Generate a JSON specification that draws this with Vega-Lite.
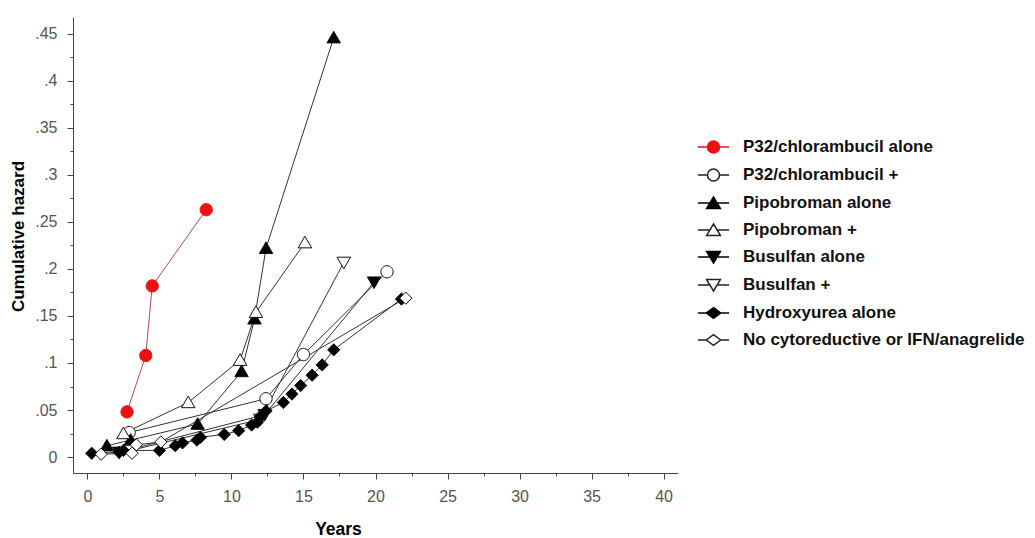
{
  "$schema": "https://vega.github.io/schema/vega-lite/v6.json",
  "width": 605,
  "height": 456,
  "autosize": "none",
  "padding": {"left": 73, "top": 17, "right": 357, "bottom": 65},
  "background": "white",
  "config": {
    "view": {"stroke": null},
    "font": "Liberation Sans",
    "axis": {"grid": false, "domainColor": "#444", "tickColor": "#444", "labelColor": "#555", "labelFont": "Liberation Sans", "titleFont": "Liberation Sans"}
  },
  "data": {
    "values": [
      {"s": "P32/chlorambucil alone", "t": 2.75, "h": 0.048},
      {"s": "P32/chlorambucil alone", "t": 4.05, "h": 0.108},
      {"s": "P32/chlorambucil alone", "t": 4.5, "h": 0.182},
      {"s": "P32/chlorambucil alone", "t": 8.25, "h": 0.263},
      {"s": "P32/chlorambucil +", "t": 2.9, "h": 0.026},
      {"s": "P32/chlorambucil +", "t": 12.4, "h": 0.062},
      {"s": "P32/chlorambucil +", "t": 15.0, "h": 0.109},
      {"s": "P32/chlorambucil +", "t": 20.8, "h": 0.197},
      {"s": "Pipobroman alone", "t": 1.35, "h": 0.012},
      {"s": "Pipobroman alone", "t": 3.0, "h": 0.018},
      {"s": "Pipobroman alone", "t": 7.65, "h": 0.035},
      {"s": "Pipobroman alone", "t": 10.7, "h": 0.091},
      {"s": "Pipobroman alone", "t": 11.6, "h": 0.147},
      {"s": "Pipobroman alone", "t": 12.4, "h": 0.222},
      {"s": "Pipobroman alone", "t": 17.1, "h": 0.446},
      {"s": "Pipobroman +", "t": 2.5, "h": 0.025},
      {"s": "Pipobroman +", "t": 7.0, "h": 0.058},
      {"s": "Pipobroman +", "t": 10.6, "h": 0.103},
      {"s": "Pipobroman +", "t": 11.7, "h": 0.154},
      {"s": "Pipobroman +", "t": 15.1, "h": 0.228},
      {"s": "Busulfan alone", "t": 2.2, "h": 0.005},
      {"s": "Busulfan alone", "t": 12.3, "h": 0.045},
      {"s": "Busulfan alone", "t": 19.9, "h": 0.186},
      {"s": "Busulfan +", "t": 3.0, "h": 0.007},
      {"s": "Busulfan +", "t": 12.0, "h": 0.04},
      {"s": "Busulfan +", "t": 17.8, "h": 0.207},
      {"s": "Hydroxyurea alone", "t": 0.3, "h": 0.004},
      {"s": "Hydroxyurea alone", "t": 2.2, "h": 0.005},
      {"s": "Hydroxyurea alone", "t": 2.5, "h": 0.007},
      {"s": "Hydroxyurea alone", "t": 5.0, "h": 0.007},
      {"s": "Hydroxyurea alone", "t": 6.1, "h": 0.012},
      {"s": "Hydroxyurea alone", "t": 6.6, "h": 0.015},
      {"s": "Hydroxyurea alone", "t": 7.6, "h": 0.018},
      {"s": "Hydroxyurea alone", "t": 7.85, "h": 0.021},
      {"s": "Hydroxyurea alone", "t": 9.5, "h": 0.024},
      {"s": "Hydroxyurea alone", "t": 10.5, "h": 0.028},
      {"s": "Hydroxyurea alone", "t": 11.4, "h": 0.034},
      {"s": "Hydroxyurea alone", "t": 11.8, "h": 0.037},
      {"s": "Hydroxyurea alone", "t": 12.0, "h": 0.043},
      {"s": "Hydroxyurea alone", "t": 12.4, "h": 0.049},
      {"s": "Hydroxyurea alone", "t": 13.6, "h": 0.058},
      {"s": "Hydroxyurea alone", "t": 14.2, "h": 0.067},
      {"s": "Hydroxyurea alone", "t": 14.8, "h": 0.076},
      {"s": "Hydroxyurea alone", "t": 15.6, "h": 0.087},
      {"s": "Hydroxyurea alone", "t": 16.3, "h": 0.098},
      {"s": "Hydroxyurea alone", "t": 17.1, "h": 0.114},
      {"s": "Hydroxyurea alone", "t": 21.8, "h": 0.168},
      {"s": "No cytoreductive or IFN/anagrelide", "t": 0.95, "h": 0.003},
      {"s": "No cytoreductive or IFN/anagrelide", "t": 3.1, "h": 0.004},
      {"s": "No cytoreductive or IFN/anagrelide", "t": 3.4, "h": 0.013},
      {"s": "No cytoreductive or IFN/anagrelide", "t": 5.1, "h": 0.016},
      {"s": "No cytoreductive or IFN/anagrelide", "t": 22.1, "h": 0.169}
    ]
  },
  "layer": [
    {
      "mark": {"type": "line", "strokeWidth": 1},
      "encoding": {
        "x": {"field": "t", "type": "quantitative", "scale": {"domain": [-1, 41], "nice": false, "zero": false},
          "axis": {"orient": "bottom", "values": [0, 5, 10, 15, 20, 25, 30, 35, 40], "tickSize": 6, "labelFontSize": 16, "labelPadding": 9, "title": "Years", "titleFontSize": 17.5, "titleFontWeight": "bold", "titleColor": "#000", "titleX": 265, "titleY": 56, "titleBaseline": "middle", "titleAlign": "center"}},
        "y": {"field": "h", "type": "quantitative", "scale": {"domain": [-0.017, 0.468], "nice": false, "zero": false},
          "axis": {"orient": "left", "values": [0, 0.05, 0.1, 0.15, 0.2, 0.25, 0.3, 0.35, 0.4, 0.45], "labelExpr": "datum.value == 0 ? '0' : slice(format(datum.value, '.2~f'), 1)", "tickSize": 6, "labelFontSize": 16, "labelPadding": 10, "title": "Cumulative hazard", "titleFontSize": 17, "titleFontWeight": "bold", "titleColor": "#000", "titleX": -55, "titleY": 219, "titleBaseline": "middle", "titleAlign": "center", "titleAngle": -90}},
        "detail": {"field": "s", "type": "nominal"},
        "color": {"condition": {"test": "datum.s === 'P32/chlorambucil alone'", "value": "#b84a4a"}, "value": "#333333"}
      }
    },
    {
      "mark": {"type": "point", "filled": true, "size": 150, "strokeWidth": 1, "opacity": 1},
      "encoding": {
        "x": {"field": "t", "type": "quantitative",
          "axis": {"orient": "bottom", "values": [2.5, 7.5, 12.5, 17.5, 22.5, 27.5, 32.5, 37.5], "tickSize": 3, "labels": false, "domain": false, "title": null}},
        "y": {"field": "h", "type": "quantitative",
          "axis": {"orient": "left", "values": [0.025, 0.075, 0.125, 0.175, 0.225, 0.275, 0.325, 0.375, 0.425], "tickSize": 3, "labels": false, "domain": false, "title": null}},
        "shape": {"condition": [
            {"test": "indexof(datum.s, 'P32') >= 0", "value": "M1,0A1,1,0,1,1,-1,0A1,1,0,1,1,1,0Z"},
            {"test": "indexof(datum.s, 'Pipobroman') >= 0", "value": "M0,-1.05L1.1,0.85H-1.1Z"},
            {"test": "indexof(datum.s, 'Busulfan') >= 0", "value": "M0,1.05L1.1,-0.85H-1.1Z"}
          ], "value": "M0,-1L1,0L0,1L-1,0Z"},
        "fill": {"condition": [
            {"test": "datum.s === 'P32/chlorambucil alone'", "value": "#ee1111"},
            {"test": "indexof(datum.s, 'alone') >= 0", "value": "#000000"}
          ], "value": "#ffffff"},
        "stroke": {"condition": {"test": "datum.s === 'P32/chlorambucil alone'", "value": "#ee1111"}, "value": "#111111"}
      }
    },
    {
      "transform": [{"filter": "false"}],
      "mark": {"type": "point", "filled": true, "size": 144, "strokeWidth": 1, "opacity": 1},
      "encoding": {
        "x": {"field": "t", "type": "quantitative", "axis": null},
        "y": {"field": "h", "type": "quantitative", "axis": null},
        "shape": {"field": "s", "type": "nominal",
          "scale": {"domain": ["P32/chlorambucil alone", "P32/chlorambucil +", "Pipobroman alone", "Pipobroman +", "Busulfan alone", "Busulfan +", "Hydroxyurea alone", "No cytoreductive or IFN/anagrelide"],
            "range": [
              "M-2.6,0H-1M1,0H2.6M1,0A1,1,0,1,1,-1,0A1,1,0,1,1,1,0Z",
              "M-2.6,0H-1M1,0H2.6M1,0A1,1,0,1,1,-1,0A1,1,0,1,1,1,0Z",
              "M-2.6,0H-0.6M0.6,0H2.6M0,-1L1.15,0.9H-1.15Z",
              "M-2.6,0H-0.6M0.6,0H2.6M0,-1L1.15,0.9H-1.15Z",
              "M-2.6,0H-0.6M0.6,0H2.6M0,1L1.15,-0.9H-1.15Z",
              "M-2.6,0H-0.6M0.6,0H2.6M0,1L1.15,-0.9H-1.15Z",
              "M-2.6,0H-1.2M1.2,0H2.6M0,-0.9L1.2,0L0,0.9L-1.2,0Z",
              "M-2.6,0H-1.2M1.2,0H2.6M0,-0.9L1.2,0L0,0.9L-1.2,0Z"]},
          "legend": {"title": null, "orient": "none", "legendX": 632, "legendY": 121.5, "padding": 0, "labelFont": "Liberation Sans", "labelFontSize": 17, "labelFontWeight": "bold", "labelColor": "#111", "labelLimit": 400, "labelOffset": 21, "rowPadding": 9, "symbolSize": 144}},
        "fill": {"field": "s", "type": "nominal",
          "scale": {"domain": ["P32/chlorambucil alone", "P32/chlorambucil +", "Pipobroman alone", "Pipobroman +", "Busulfan alone", "Busulfan +", "Hydroxyurea alone", "No cytoreductive or IFN/anagrelide"],
            "range": ["#ee1111", "#ffffff", "#000000", "#ffffff", "#000000", "#ffffff", "#000000", "#ffffff"]}},
        "stroke": {"field": "s", "type": "nominal",
          "scale": {"domain": ["P32/chlorambucil alone", "P32/chlorambucil +", "Pipobroman alone", "Pipobroman +", "Busulfan alone", "Busulfan +", "Hydroxyurea alone", "No cytoreductive or IFN/anagrelide"],
            "range": ["#ee1111", "#222222", "#000000", "#222222", "#000000", "#222222", "#000000", "#222222"]}}
      }
    }
  ],
  "resolve": {"axis": {"x": "independent", "y": "independent"}}
}
